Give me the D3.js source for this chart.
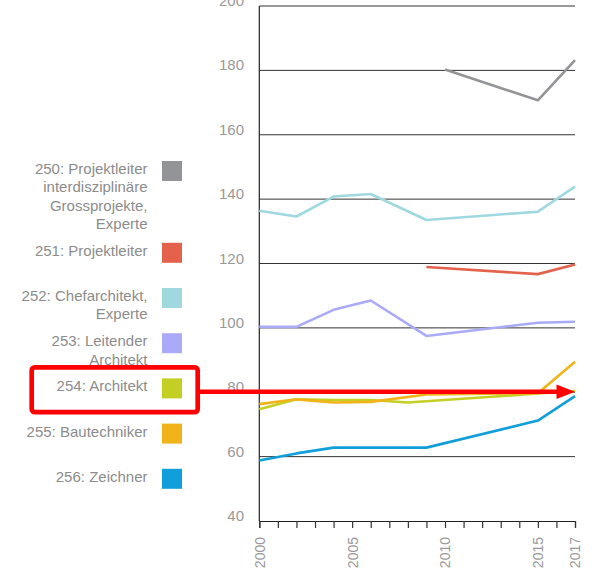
<!DOCTYPE html>
<html>
<head>
<meta charset="utf-8">
<script src="https://cdn.jsdelivr.net/npm/d3@7"></script>
<style>
  html, body { margin: 0; padding: 0; background: #fff; }
  svg { display: block; font-family: "Liberation Sans", Arial, sans-serif; }
</style>
</head>
<body>
<svg id="chart" width="596" height="573"></svg>
<script>
// Survey years (shared x positions for every series)
const years = [2000, 2002, 2004, 2006, 2008, 2009, 2010, 2015, 2017];

// Salary index per function level; null = no value for that year
const s250 = [null, null, null, null, null, null, 180.3, 170.7, 183.2];
const s251 = [null, null, null, null, null, 118.9, null, 116.7, 119.7];
const s252 = [136.4, 134.6, 140.8, 141.6, null, 133.5, null, 136.1, 143.9];
const s253 = [100.3, 100.3, 105.6, 108.5, null, 97.5, null, 101.6, 101.9];
const s254 = [74.7, 77.8, 77.6, 77.6, 76.8, null, null, 79.6, 80.4];
const s255 = [76.3, 77.8, 76.8, 77.0, null, 79.3, null, 79.7, 89.5];
const s256 = [58.8, 61.0, 62.8, 62.8, null, 62.8, null, 71.2, 78.8];

const seriesLabels = [
  ["250: Projektleiter", "interdisziplinäre", "Grossprojekte,", "Experte"],
  ["251: Projektleiter"],
  ["252: Chefarchitekt,", "Experte"],
  ["253: Leitender", "Architekt"],
  ["254: Architekt"],
  ["255: Bautechniker"],
  ["256: Zeichner"]
];
const seriesColors = ["#939497", "#e4624b", "#9fd9df", "#aaaaf8", "#c4cf24", "#f0b41a", "#109fda"];
const seriesValues = [s250, s251, s252, s253, s254, s255, s256];

const yTicks = [40, 60, 80, 100, 120, 140, 160, 180, 200];
const xTickLabels = [2000, 2005, 2010, 2015, 2017];
const highlighted = 4; // "254: Architekt"

const svg = d3.select("#chart");

const x = d3.scaleLinear().domain([2000, 2017]).range([259.3, 575]);
const y = d3.scaleLinear().domain([40, 200]).range([521, 6]);

// Horizontal gridlines
svg.append("g")
  .selectAll("line")
  .data(yTicks.filter(v => v > 40))
  .join("line")
  .attr("x1", x(2000)).attr("x2", x(2017))
  .attr("y1", d => y(d)).attr("y2", d => y(d))
  .attr("stroke", "#333").attr("stroke-width", 1);

// Y tick labels (baseline sits on the gridline)
svg.append("g")
  .selectAll("text")
  .data(yTicks)
  .join("text")
  .attr("x", 244)
  .attr("y", d => y(d))
  .attr("text-anchor", "end")
  .attr("font-size", 15)
  .attr("fill", "#999")
  .text(d => d);

// Left axis line
svg.append("line")
  .attr("x1", x(2000)).attr("x2", x(2000))
  .attr("y1", y(200)).attr("y2", y(40))
  .attr("stroke", "#222").attr("stroke-width", 1.2);

// Bottom axis with a tick each year, labels on selected years
const xAxis = d3.axisBottom(x)
  .tickValues(d3.range(2000, 2018))
  .tickSize(7)
  .tickFormat(d => xTickLabels.includes(d) ? d : "");
const gx = svg.append("g")
  .attr("transform", `translate(0,${y(40)})`)
  .call(xAxis);
gx.select(".domain").attr("stroke", "#222").attr("stroke-width", 1.2);
gx.selectAll(".tick line").attr("stroke", "#333").attr("stroke-width", 1.2);
gx.selectAll(".tick text")
  .attr("font-family", "Liberation Sans, Arial, sans-serif")
  .attr("font-size", 14)
  .attr("fill", "#999")
  .attr("text-anchor", "end")
  .attr("transform", "rotate(-90)")
  .attr("x", -16)
  .attr("y", 0)
  .attr("dy", "0.35em");

// Series lines
const line = d3.line()
  .x(d => x(d.year))
  .y(d => y(d.value));

const plot = svg.append("g");
seriesValues.forEach((vals, i) => {
  const pts = years
    .map((yr, j) => ({ year: yr, value: vals[j] }))
    .filter(d => d.value != null);
  plot.append("path")
    .datum(pts)
    .attr("d", line)
    .attr("fill", "none")
    .attr("stroke", seriesColors[i])
    .attr("stroke-width", 2.6)
    .attr("stroke-linejoin", "round");
});

// Legend: labels right-aligned beside colour squares
const lineH = 18.3;
const legend = svg.append("g");
let itemY = 161;
const itemTops = [];
seriesLabels.forEach((lines, i) => {
  itemTops.push(itemY);
  legend.append("rect")
    .attr("x", 162).attr("y", itemY)
    .attr("width", 20).attr("height", 20)
    .attr("fill", seriesColors[i]);
  const t = legend.append("text")
    .attr("text-anchor", "end")
    .attr("font-size", 15)
    .attr("fill", "#8c8c8c");
  lines.forEach((ln, k) => {
    t.append("tspan")
      .attr("x", 147.5)
      .attr("y", itemY + 13 + k * lineH)
      .text(ln);
  });
  itemY += Math.max(lines.length, 2) * lineH + 8.6;
});

// Highlight box around one legend entry with an arrow into the chart
const boxTop = itemTops[highlighted];
const ann = svg.append("g");
ann.append("rect")
  .attr("x", 31.7).attr("y", boxTop - 11)
  .attr("width", 166).attr("height", 44.7)
  .attr("rx", 3)
  .attr("fill", "none")
  .attr("stroke", "#ff0000")
  .attr("stroke-width", 4.7);

const arrowY = 391.7;
ann.append("line")
  .attr("x1", 200).attr("x2", 559)
  .attr("y1", arrowY).attr("y2", arrowY)
  .attr("stroke", "#ff0000")
  .attr("stroke-width", 4.5);
ann.append("path")
  .attr("d", `M${556.5},${arrowY - 7.2} L${575},${arrowY} L${556.5},${arrowY + 7.2} Z`)
  .attr("fill", "#ff0000");
</script>
</body>
</html>
